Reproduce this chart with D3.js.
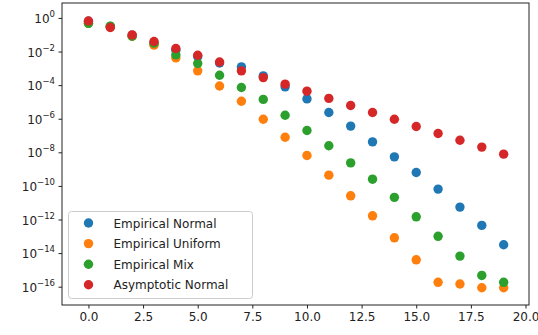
<!DOCTYPE html>
<html lang="en">
  <head>
    <meta charset="utf-8">
    <title>Tail probabilities</title>
    <script src="https://cdnjs.cloudflare.com/ajax/libs/d3/7.8.5/d3.min.js"></script>
    <style>
      body {
        margin: 0;
        background: #fff;
      }
      text {
        font-family: "DejaVu Sans", sans-serif;
        fill: #222;
      }
      .axis path, .axis line {
        stroke: #222;
        stroke-width: 1;
      }
    </style>
  </head>
  <body>
    <div id="vis"></div>
<script>
    // x positions and log10 of the plotted values
    var xs = [0, 1, 2, 3, 4, 5, 6, 7, 8, 9, 10, 11, 12, 13, 14, 15, 16, 17, 18, 19];

    var empiricalNormal = [-0.2, -0.5, -1.03, -1.5, -1.92, -2.3, -2.68, -2.91, -3.45, -4.10,
        -4.82, -5.63, -6.44, -7.38, -8.27, -9.20, -10.19, -11.26, -12.35, -13.50];
    var empiricalUniform = [-0.32, -0.55, -1.09, -1.62, -2.38, -3.15, -4.05, -4.96, -6.03, -7.10,
        -8.19, -9.36, -10.59, -11.78, -13.09, -14.40, -15.74, -15.84, -16.06, -16.06];
    var empiricalMix = [-0.32, -0.49, -1.09, -1.5, -2.2, -2.71, -3.41, -4.14, -4.85, -5.79,
        -6.70, -7.61, -8.63, -9.60, -10.68, -11.84, -13.00, -14.18, -15.33, -15.74];
    var asymptoticNormal = [-0.18, -0.57, -1.01, -1.40, -1.82, -2.22, -2.62, -3.15, -3.55, -3.94,
        -4.36, -4.79, -5.21, -5.63, -6.03, -6.46, -6.88, -7.28, -7.69, -8.11];

    var seriesNames = ['Empirical Normal', 'Empirical Uniform', 'Empirical Mix', 'Asymptotic Normal'];
    var colors = ['#1f77b4', '#ff7f0e', '#2ca02c', '#d62728'];
    var xTicks = [0, 2.5, 5, 7.5, 10, 12.5, 15, 17.5, 20];
    var yTickExps = [0, -2, -4, -6, -8, -10, -12, -14, -16];

    var width = 538;
    var height = 335;
    var margin = { top: 3, bottom: 30, left: 62, right: 9 };

    var svg = d3.select('#vis')
        .append('svg')
        .attr('width', width)
        .attr('height', height);

    var plotW = width - margin.left - margin.right;
    var plotH = height - margin.top - margin.bottom;

    var g = svg.append('g')
        .attr('transform', 'translate(' + margin.left + ',' + margin.top + ')');

    var x_scale = d3.scaleLinear()
        .domain([-1.21, 20.16])
        .range([0, plotW]);

    var y_scale = d3.scaleLog()
        .domain([Math.pow(10, -17.09), Math.pow(10, 0.89)])
        .range([plotH, 0]);

    var allSeries = [empiricalNormal, empiricalUniform, empiricalMix, asymptoticNormal];

    allSeries.forEach(function(vals, i) {
        g.selectAll('.dot' + i)
            .data(xs)
            .enter()
            .append('circle')
            .attr('class', 'dot' + i)
            .attr('cx', function(d) { return x_scale(d); })
            .attr('cy', function(d, j) { return y_scale(Math.pow(10, vals[j])); })
            .attr('r', 4.7)
            .attr('fill', colors[i]);
    });

    // frame
    g.append('rect')
        .attr('width', plotW)
        .attr('height', plotH)
        .attr('fill', 'none')
        .attr('stroke', '#222')
        .attr('stroke-width', 1);

    var x_axis = d3.axisBottom(x_scale)
        .tickValues(xTicks)
        .tickFormat(d3.format('.1f'))
        .tickSize(3.5)
        .tickPadding(3.5);

    var xg = g.append('g')
        .attr('class', 'axis')
        .attr('transform', 'translate(0,' + plotH + ')')
        .call(x_axis);
    xg.select('.domain').remove();
    xg.selectAll('text')
        .style('font-size', '12px')
        .style('font-family', '"DejaVu Sans", sans-serif')
        .attr('fill', '#222');

    var y_axis = d3.axisLeft(y_scale)
        .tickValues(yTickExps.map(function(e) { return Math.pow(10, e); }))
        .tickFormat('')
        .tickSize(3.5);

    var yg = g.append('g')
        .attr('class', 'axis')
        .call(y_axis);
    yg.select('.domain').remove();

    // 10^n labels with superscripts
    yTickExps.forEach(function(e) {
        var t = g.append('text')
            .attr('x', -7)
            .attr('y', y_scale(Math.pow(10, e)) + 5)
            .attr('text-anchor', 'end')
            .style('font-size', '12px');
        t.append('tspan').text('10');
        t.append('tspan')
            .attr('dy', -6)
            .style('font-size', '8.5px')
            .text(e === 0 ? '0' : '\u2212' + (-e));
    });

    // legend
    var legend = g.append('g')
        .attr('transform', 'translate(6.5,208.5)');

    legend.append('rect')
        .attr('width', 184)
        .attr('height', 87)
        .attr('rx', 3)
        .attr('fill', '#fff')
        .attr('fill-opacity', 0.8)
        .attr('stroke', '#ccc');

    seriesNames.forEach(function(name, i) {
        var row = legend.append('g')
            .attr('transform', 'translate(0,' + (11.5 + i * 20.6) + ')');
        row.append('circle')
            .attr('cx', 20)
            .attr('cy', 0)
            .attr('r', 4.7)
            .attr('fill', colors[i]);
        row.append('text')
            .attr('x', 45)
            .attr('y', 4.5)
            .style('font-size', '12px')
            .text(name);
    });
</script>
  </body>
</html>
